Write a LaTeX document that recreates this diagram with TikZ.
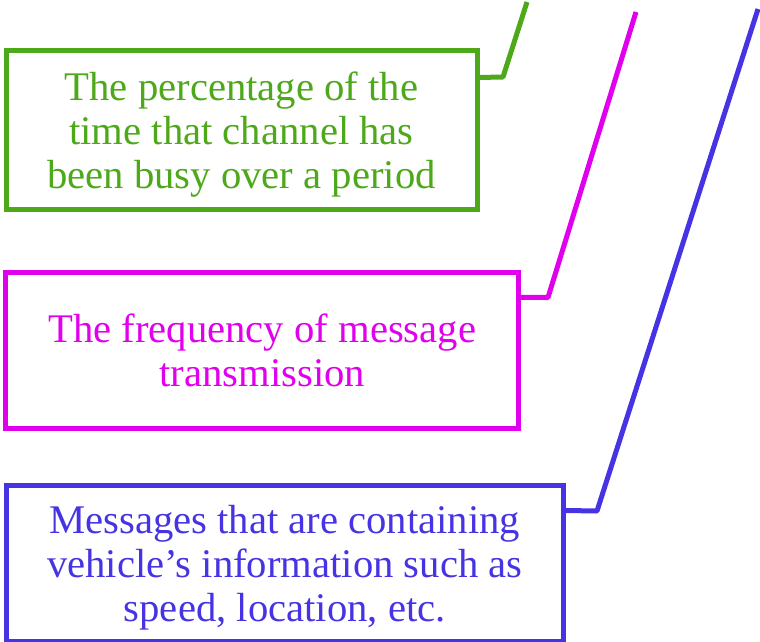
\documentclass[tikz,border=0pt]{standalone}
\usepackage{fontspec}
\setmainfont{Liberation Serif}
\usepackage{xcolor}
\definecolor{busygreen}{RGB}{77,168,26}
\definecolor{freqmagenta}{RGB}{224,0,238}
\definecolor{msgblue}{RGB}{70,52,228}

\begin{document}
\begin{tikzpicture}[
  x=0.75pt,
  y=-0.75pt,
  line width=3.75pt,
  callout/.style={
    draw=#1,
    text=#1,
    align=center,
    inner sep=0pt,
    text depth=0pt,
    font=\fontsize{30.5}{33}\selectfont
  },
  leader/.style={
    draw=#1,
    line join=round
  }
]
  \useasboundingbox (0,0) rectangle (760,642);

  \node[callout=busygreen, minimum width=353.25pt, minimum height=119.6pt]
    (busy) at (241.5,130.25)
    {The percentage of the\\time that channel has\\been busy over a period};
  \node[callout=freqmagenta, minimum width=384.4pt, minimum height=117pt]
    (freq) at (262.25,350.5)
    {The frequency of message\\transmission};
  \node[callout=msgblue, minimum width=418.1pt, minimum height=117pt]
    (msgs) at (284.75,563)
    {Messages that are containing\\vehicle’s information such as\\speed, location, etc.};

  \coordinate (busy bend) at (503,77);
  \coordinate (busy tip) at (527,2);
  \coordinate (freq bend) at (548,297.5);
  \coordinate (freq tip) at (636,12);
  \coordinate (msgs bend) at (597,511);
  \coordinate (msgs tip) at (758,9);

  \draw[leader=busygreen] ([yshift=-22.1pt]busy.north east)
    -- (busy bend) -- (busy tip);
  \draw[leader=freqmagenta] ([yshift=-20.6pt]freq.north east)
    -- (freq bend) -- (freq tip);
  \draw[leader=msgblue] ([yshift=-21pt]msgs.north east)
    -- (msgs bend) -- (msgs tip);
\end{tikzpicture}
\end{document}
